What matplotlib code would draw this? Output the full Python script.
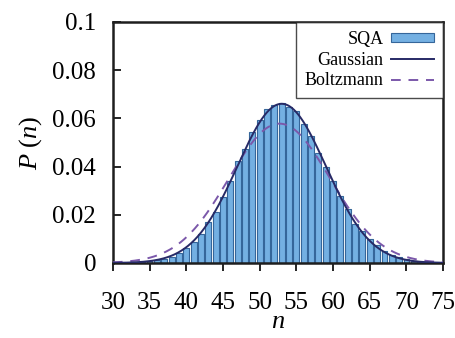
import numpy as np
import matplotlib
matplotlib.use("Agg")
import matplotlib.pyplot as plt

plt.rcParams['font.family'] = ['Liberation Serif', 'DejaVu Serif']
plt.rcParams['mathtext.fontset'] = 'custom'
plt.rcParams['mathtext.it'] = 'Liberation Serif:italic'
plt.rcParams['mathtext.rm'] = 'Liberation Serif'

# SQA histogram
n_vals = list(range(32, 75))
sqa_prob = [0.0001, 0.0002, 0.0004, 0.0007, 0.0012, 0.0018, 0.0026, 0.0040,
            0.0061, 0.0088, 0.0120, 0.0171, 0.0212, 0.0275, 0.0340, 0.0424,
            0.0472, 0.0545, 0.0593, 0.0638, 0.0656, 0.0663, 0.0649, 0.0630,
            0.0576, 0.0525, 0.0455, 0.0400, 0.0340, 0.0278, 0.0223, 0.0162,
            0.0133, 0.0098, 0.0073, 0.0050, 0.0033, 0.0024, 0.0017, 0.0010,
            0.0006, 0.0003, 0.0002]

# Fitted curve parameters
gauss_mu, gauss_sigma = 53.0, 6.04
boltz_mu, boltz_sigma = 52.7, 6.9

xticks = [30, 35, 40, 45, 50, 55, 60, 65, 70, 75]
yticks = [0, 0.02, 0.04, 0.06, 0.08, 0.1]
yticklabels = ['0', '0.02', '0.04', '0.06', '0.08', '0.1']

fig = plt.figure(figsize=(4.55, 3.38), dpi=100)
ax = fig.add_axes([0.248, 0.222, 0.726, 0.713])

bar_col = '#74b0e2'
edge_col = '#35669a'
n_arr = np.array(n_vals, dtype=float)
p_arr = np.array(sqa_prob)
# gray stripes (shading between bars)
ax.bar(n_arr + 0.45, p_arr, width=0.14, color='#b8b4ae', linewidth=0, zorder=1)
h_sqa = ax.bar(n_arr, p_arr, width=0.8, color=bar_col, edgecolor=edge_col,
               linewidth=0.8, zorder=2, label='SQA')

xs = np.linspace(30, 75, 600)
g = np.exp(-(xs - gauss_mu) ** 2 / (2 * gauss_sigma ** 2)) / (gauss_sigma * np.sqrt(2 * np.pi))
b = np.exp(-(xs - boltz_mu) ** 2 / (2 * boltz_sigma ** 2)) / (boltz_sigma * np.sqrt(2 * np.pi))
h_g, = ax.plot(xs, g, color='#272a66', lw=1.4, zorder=4, label='Gaussian')
h_b, = ax.plot(xs, b, color='#7b58aa', lw=1.4, ls=(0, (5, 4)), zorder=3, label='Boltzmann')

ax.set_xlim(30, 75)
ax.set_ylim(0, 0.1)
ax.set_xticks(xticks)
ax.set_xticklabels([str(t) for t in xticks])
ax.set_yticks(yticks)
ax.set_yticklabels(yticklabels)
ax.tick_params(axis='x', direction='out', length=6, width=1.2, labelsize=18, pad=15)
ax.tick_params(axis='y', direction='in', length=6, width=1.2, labelsize=18, pad=12)
for s in ax.spines.values():
    s.set_linewidth(1.8)
    s.set_color('#1e1e1e')

ax.set_xlabel(r'$n$', fontsize=19, labelpad=-2)
ax.set_ylabel(r'$P\ (n)$', fontsize=19, labelpad=6)

leg = ax.legend([h_sqa, h_g, h_b], ['SQA', 'Gaussian', 'Boltzmann'],
                loc='upper right', markerfirst=False, fontsize=13,
                frameon=True, fancybox=False, borderaxespad=0,
                handlelength=2.4, handleheight=0.45, handletextpad=0.4,
                labelspacing=0.2, borderpad=0.5)
leg.get_frame().set_edgecolor('#1e1e1e')
leg.get_frame().set_linewidth(1.0)
leg._legend_box.align = 'right'

fig.savefig('out.png', dpi=100)
